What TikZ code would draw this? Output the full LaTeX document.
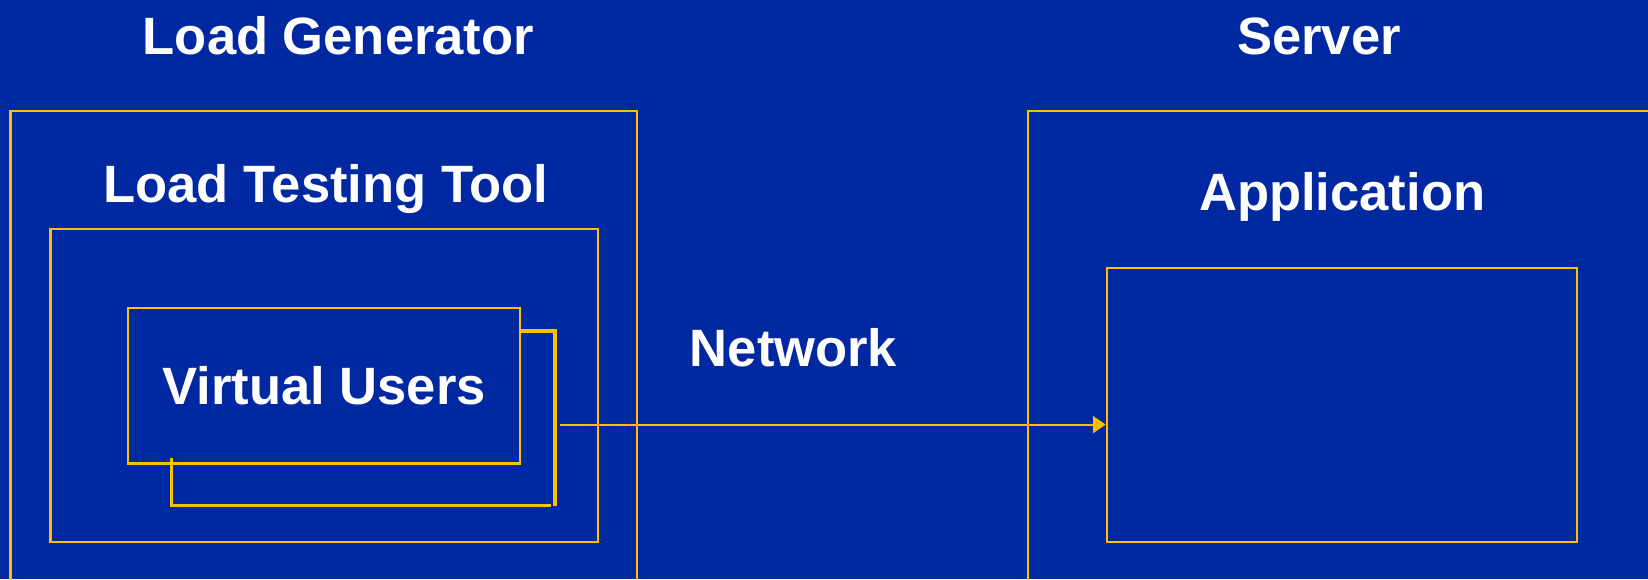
\documentclass[tikz,border=0pt]{standalone}
\usepackage{fontspec}
\setmainfont{Liberation Sans}
\usetikzlibrary{arrows.meta, positioning}
\definecolor{slideblue}{RGB}{0,40,160}
\definecolor{lineyellow}{RGB}{255,192,0}
\tikzset{
  label text/.style={text=white, font=\fontsize{25}{30}\selectfont\bfseries, anchor=base, inner sep=0pt},
  frame/.style={draw=lineyellow, line width=1pt},
  shadowline/.style={draw=lineyellow, line width=1.5pt},
  flow/.style={draw=lineyellow, line width=1pt, -{Triangle[length=6pt, width=8pt]}}
}

\begin{document}
\begin{tikzpicture}[x=0.5pt, y=-0.5pt]
  \fill[slideblue] (0,0) rectangle (1568,551);
  \useasboundingbox (0,0) rectangle (1568,551);
%% left side
  \node[label text] (gen) at (322,52) {Load Generator};
  \draw[frame] (10,552) |- (606,106) -- (606,552);
  \node[label text] (tool) at (310,193) {Load Testing Tool};
  \draw[frame] (48,218) rectangle (569,516);
  \draw[shadowline] (163,436) -- (163,481) -- (524,481);
  \draw[shadowline] (495,315) -- (528,315) -- (528,481);
  \node[frame, text=white, font=\fontsize{25}{30}\selectfont\bfseries,
        minimum width=186.5pt, minimum height=74pt, inner sep=0pt] (vu) at (308.5,367) {Virtual Users};
%% network
  \node[label text] (net) at (755,349) {Network};
%% right side
  \node[label text] (srv) at (1255,52) {Server};
  \draw[frame] (978,552) |- (1570,106);
  \node[label text] (appl) at (1277,200) {Application};
  \node[frame, minimum width=223.5pt, minimum height=130.5pt, inner sep=0pt] (app) at (1276.5,385.5) {};
%% arrow
  \coordinate (vuout) at (533,404);
  \draw[flow] (vuout) -- (vuout -| app.west);
\end{tikzpicture}
\end{document}
